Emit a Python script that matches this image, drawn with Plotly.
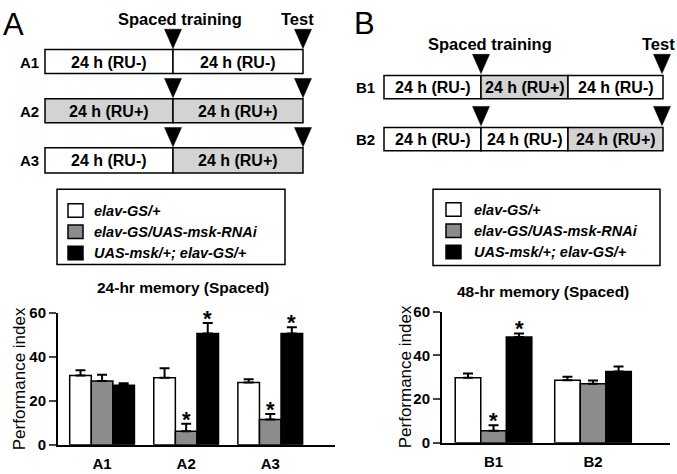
import plotly.graph_objects as go

W, H = 677, 474
FONT = "Liberation Sans"

# ---------------- data ----------------
series_names = ["elav-GS/+", "elav-GS/UAS-msk-RNAi", "UAS-msk/+; elav-GS/+"]
series_colors = ["#ffffff", "#8c8c8c", "#000000"]

cats_A = ["A1", "A2", "A3"]
vals_A_white = [31.5, 30.5, 28.3]
err_A_white = [2.4, 4.3, 1.5]
vals_A_gray = [29.0, 6.2, 11.5]
err_A_gray = [2.8, 3.4, 2.5]
vals_A_black = [27.0, 50.6, 50.6]
err_A_black = [1.0, 4.7, 2.8]
sig_A_gray = [False, True, True]
sig_A_black = [False, True, True]

cats_B = ["B1", "B2"]
vals_B_white = [29.8, 28.6]
err_B_white = [1.9, 1.6]
vals_B_gray = [5.5, 27.0]
err_B_gray = [2.6, 1.5]
vals_B_black = [48.4, 32.7]
err_B_black = [1.7, 2.2]
sig_B_gray = [True, False]
sig_B_black = [True, False]

title_A = "24-hr memory (Spaced)"
title_B = "48-hr memory (Spaced)"
y_title = "Performance index"
y_ticks = [0, 20, 40, 60]

schem_A_rows = ["A1", "A2", "A3"]
schem_A_segments = [["24 h (RU-)", "24 h (RU-)"],
                    ["24 h (RU+)", "24 h (RU+)"],
                    ["24 h (RU-)", "24 h (RU+)"]]
schem_B_rows = ["B1", "B2"]
schem_B_segments = [["24 h (RU-)", "24 h (RU+)", "24 h (RU-)"],
                    ["24 h (RU-)", "24 h (RU-)", "24 h (RU+)"]]

# ---------------- helpers ----------------
def px(x):
    return x / W

def py(y):
    return 1 - y / H

shapes = []
annotations = []

def text(x, y, s, size=13, bold=True, italic=False, xanchor="center", yanchor="middle", color="black", textangle=0):
    annotations.append(dict(
        x=px(x), y=py(y), xref="paper", yref="paper", text=s, showarrow=False,
        xanchor=xanchor, yanchor=yanchor, textangle=textangle,
        font=dict(family=FONT, size=size, color=color,
                  weight="bold" if bold else "normal",
                  style="italic" if italic else "normal")))

def rect(x0, y0, x1, y1, fill, lw=1.5):
    shapes.append(dict(type="rect", xref="paper", yref="paper",
                       x0=px(x0), x1=px(x1), y0=py(y1), y1=py(y0),
                       fillcolor=fill, line=dict(color="black", width=lw)))

def tri(xc, ytip, w=17, h=20):
    path = "M {a},{b} L {c},{d} L {e},{f} Z".format(
        a=px(xc - w / 2), b=py(ytip - h), c=px(xc + w / 2), d=py(ytip - h),
        e=px(xc), f=py(ytip))
    shapes.append(dict(type="path", xref="paper", yref="paper", path=path,
                       fillcolor="black", line=dict(color="black", width=0.5)))

SEG_GRAY = "#d3d3d3"
SEG_FONT = 16

# ---------------- schematic A ----------------
text(13, 16, "A", size=31, bold=False)
text(180, 10, "Spaced training", size=16.5)
text(297, 10, "Test", size=16.5)
A_bounds = [45, 173, 303]
A_rows_y = [(42, 67), (93, 118), (144, 170)]
for r, (lab, segs) in enumerate(zip(schem_A_rows, schem_A_segments)):
    y0, y1 = A_rows_y[r]
    for i, s in enumerate(segs):
        fill = SEG_GRAY if "+" in s else "white"
        rect(A_bounds[i], y0, A_bounds[i + 1], y1, fill)
        text((A_bounds[i] + A_bounds[i + 1]) / 2, (y0 + y1) / 2 + 0.5, s, size=SEG_FONT)
    text(29, (y0 + y1) / 2 + 0.5, lab, size=15)
    tri(173, y0 - 1)
    tri(303, y0 - 1)

# ---------------- schematic B ----------------
text(364, 15, "B", size=31, bold=False)
text(490, 36, "Spaced training", size=16.5)
text(658, 36, "Test", size=16.5)
B_bounds = [384, 481, 568, 663]
B_rows_y = [(69, 93), (123, 147)]
for r, (lab, segs) in enumerate(zip(schem_B_rows, schem_B_segments)):
    y0, y1 = B_rows_y[r]
    for i, s in enumerate(segs):
        fill = SEG_GRAY if "+" in s else "white"
        rect(B_bounds[i], y0, B_bounds[i + 1], y1, fill)
        text((B_bounds[i] + B_bounds[i + 1]) / 2, (y0 + y1) / 2 + 0.5, s, size=SEG_FONT)
    text(366, (y0 + y1) / 2 + 0.5, lab, size=15)
    tri(481, y0 - 2)
    tri(662, y0 - 2)

# ---------------- legends ----------------
def legend_box(x0, y0, x1, y1, sq_x, txt_x, rows_y):
    rect(x0, y0, x1, y1, "rgba(0,0,0,0)", lw=1.5)
    for name, col, yy in zip(series_names, series_colors, rows_y):
        rect(sq_x, yy - 7, sq_x + 15, yy + 7, col, lw=1.5)
        text(txt_x, yy, name, size=14.5, bold=True, italic=True, xanchor="left")

legend_box(57, 187, 285, 265, 68, 92, [209, 231, 253])
legend_box(433, 187, 660, 266, 446, 472, [208, 230, 252])

# ---------------- bar charts ----------------
fig = go.Figure()

def add_group(vals_list, errs_list, cats, xa, ya):
    xs = list(range(len(cats)))
    for name, col, v, e in zip(series_names, series_colors, vals_list, errs_list):
        fig.add_trace(go.Bar(
            x=xs, y=v, name=name, marker=dict(color=col, line=dict(color="black", width=1.5)),
            error_y=dict(type="data", symmetric=False, array=e, arrayminus=[0] * len(v),
                         color="black", thickness=2, width=5),
            xaxis=xa, yaxis=ya, showlegend=False, cliponaxis=False))

add_group([vals_A_white, vals_A_gray, vals_A_black], [err_A_white, err_A_gray, err_A_black], cats_A, "x", "y")
add_group([vals_B_white, vals_B_gray, vals_B_black], [err_B_white, err_B_gray, err_B_black], cats_B, "x2", "y2")

GAP_A = 0.23

def stars(vals, errs, sigs, idx, xref, yref):
    w = (1 - GAP_A) / 3
    for g, (v, e, s) in enumerate(zip(vals, errs, sigs)):
        if s:
            annotations.append(dict(x=g + (idx - 1) * w, y=v + e, xref=xref, yref=yref,
                                    text="*", showarrow=False, yanchor="bottom", yshift=-10,
                                    font=dict(family=FONT, size=22, color="black", weight="bold")))

stars(vals_A_gray, err_A_gray, sig_A_gray, 1, "x", "y")
stars(vals_A_black, err_A_black, sig_A_black, 2, "x", "y")
stars(vals_B_gray, err_B_gray, sig_B_gray, 1, "x2", "y2")
stars(vals_B_black, err_B_black, sig_B_black, 2, "x2", "y2")

# chart titles and y titles
text(183, 289, title_A, size=15.5)
text(543, 293, title_B, size=15.5)
text(19, 384, y_title, size=17, bold=False, textangle=-90)
text(405, 382, y_title, size=17, bold=False, textangle=-90)

axis_common = dict(showline=True, linecolor="black", linewidth=2, showgrid=False, zeroline=False,
                   tickfont=dict(family=FONT, size=15, color="black", weight="bold"))

fig.update_layout(
    width=W, height=H, margin=dict(l=0, r=0, t=0, b=0),
    paper_bgcolor="white", plot_bgcolor="white",
    barmode="group",
    xaxis=dict(domain=[px(58), px(335)], range=[-0.524, 2.77], tickvals=[0, 1, 2], ticktext=cats_A,
               ticks="", ticklabelstandoff=4, anchor="y", **axis_common),
    yaxis=dict(domain=[py(452), py(315)], range=[0, 60], tickvals=y_ticks, ticks="outside",
               ticklen=7, tickwidth=2, anchor="x", **axis_common),
    xaxis2=dict(domain=[px(442), px(670)], range=[-0.518, 1.774], tickvals=[0, 1], ticktext=cats_B,
                ticks="", ticklabelstandoff=4, anchor="y2", **axis_common),
    yaxis2=dict(domain=[py(450), py(314)], range=[0, 60], tickvals=y_ticks, ticks="outside",
                ticklen=7, tickwidth=2, anchor="x2", **axis_common),
    bargap=GAP_A, bargroupgap=0,
    shapes=shapes, annotations=annotations,
)

fig.write_html("out.html", config={"displayModeBar": False},
               post_script="document.body.style.margin='0';document.body.style.overflow='hidden';")
